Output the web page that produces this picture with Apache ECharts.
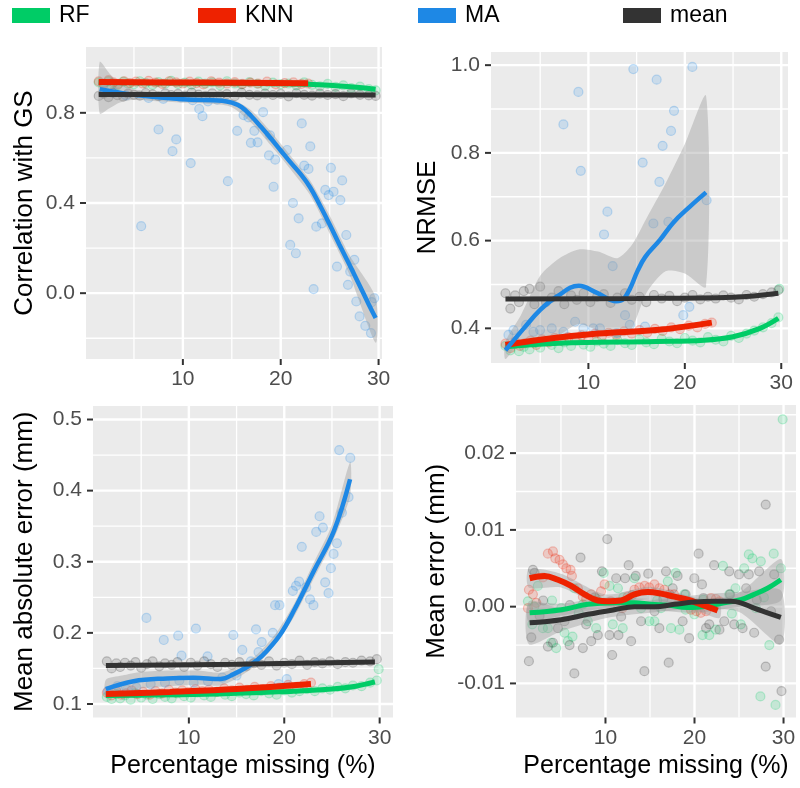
<!DOCTYPE html>
<html><head><meta charset="utf-8">
<script src="https://cdn.jsdelivr.net/npm/echarts@6/dist/echarts.min.js"></script>
<style>html,body{margin:0;padding:0;background:#fff}#c{width:800px;height:788px}</style>
</head><body><div id="c"></div>
<script>
// ---------------- data ----------------
const methods = ['RF', 'KNN', 'MA', 'mean'];
const xMajorTicks = [10, 20, 30];
const xMinorTicks = [5, 15, 25];

const pctAll = [1.4,1.9,2.4,2.8,3.3,3.9,4.4,5.0,5.6,6.2,6.9,7.5,8.2,8.8,9.5,10.2,10.9,11.6,12.3,13.0,13.8,14.5,15.3,16.0,16.8,17.6,18.4,19.2,20.0,20.8,21.6,22.4,23.2,24.0,24.8,25.6,26.4,27.2,28.1,29.0,29.7];
const pctKnn = [1.4,1.9,2.4,2.9,3.4,4.0,4.6,5.2,5.9,6.5,7.2,7.9,8.6,9.3,10.0,10.7,11.4,12.1,12.9,13.7,14.5,15.3,16.1,16.9,17.7,18.6,19.5,20.4,21.3,22.1,22.8];

const corrRF = [0.935,0.925,0.94,0.93,0.922,0.938,0.93,0.927,0.94,0.932,0.924,0.936,0.93,0.942,0.928,0.934,0.925,0.938,0.93,0.935,0.922,0.94,0.93,0.926,0.936,0.929,0.92,0.934,0.927,0.93,0.922,0.935,0.924,0.918,0.928,0.915,0.922,0.91,0.916,0.905,0.9];
const corrKNN = [0.94,0.93,0.945,0.935,0.928,0.94,0.932,0.938,0.93,0.942,0.934,0.928,0.94,0.935,0.93,0.938,0.932,0.926,0.94,0.934,0.93,0.936,0.928,0.934,0.93,0.938,0.926,0.932,0.935,0.928,0.93];
const corrMean = [0.875,0.885,0.87,0.89,0.878,0.872,0.885,0.88,0.876,0.888,0.882,0.874,0.886,0.879,0.884,0.876,0.89,0.881,0.875,0.886,0.878,0.883,0.874,0.889,0.88,0.877,0.885,0.879,0.884,0.873,0.887,0.88,0.876,0.885,0.879,0.883,0.874,0.886,0.88,0.877,0.875];
const corrMA = [[2.0,0.9],[3.0,0.89],[4.2,0.877],[5.74,0.297],[6.5,0.866],[7.51,0.726],[8.0,0.862],[8.94,0.63],[9.32,0.682],[9.8,0.868],[10.8,0.577],[11.0,0.856],[11.67,0.817],[12.0,0.785],[12.56,0.851],[13.5,0.858],[14.6,0.497],[15.55,0.72],[16.2,0.79],[16.7,0.78],[16.95,0.667],[17.3,0.72],[17.63,0.669],[18.2,0.803],[18.8,0.611],[18.9,0.7],[19.27,0.472],[19.44,0.592],[20.65,0.635],[20.97,0.214],[21.25,0.4],[21.55,0.177],[21.83,0.332],[22.15,0.753],[22.4,0.566],[22.84,0.551],[23.02,0.651],[23.36,0.018],[23.63,0.295],[24.21,0.31],[24.55,0.458],[24.9,0.435],[25.13,0.556],[25.4,0.45],[25.75,0.118],[26.09,0.413],[26.28,0.5],[26.7,0.258],[26.87,0.037],[27.1,0.096],[27.52,0.148],[27.72,-0.037],[28.06,-0.103],[28.64,-0.145],[29.22,-0.177],[29.3,-0.04],[29.56,-0.022]];
const corrLineRF = [[1.4,0.935],[10,0.932],[20,0.929],[25,0.922],[29.7,0.905]];
const corrLineKNN = [[1.4,0.937],[12,0.934],[22.8,0.931]];
const corrLineMA = [[1.5,0.905],[5,0.88],[10,0.86],[14,0.854],[15,0.845],[16,0.825],[17,0.785],[18,0.737],[19,0.686],[20,0.633],[21,0.58],[22,0.53],[23,0.47],[24,0.39],[25,0.305],[26,0.215],[27,0.128],[28,0.04],[29,-0.05],[29.7,-0.11]];
const corrLineMean = [[1.4,0.881],[15,0.881],[29.7,0.879]];
const corrBandX = [1.5,2.5,3.5,5,7,10,13,15,17,19,21,23,25,27,29.7];
const corrBandHi = [1.026,0.975,0.935,0.905,0.89,0.875,0.868,0.86,0.81,0.715,0.61,0.5,0.345,0.17,-0.02];
const corrBandLo = [0.797,0.82,0.845,0.858,0.852,0.845,0.84,0.825,0.755,0.655,0.55,0.435,0.265,0.085,-0.22];

const nrmseRF = [0.36,0.35,0.365,0.348,0.358,0.352,0.366,0.356,0.37,0.362,0.355,0.368,0.36,0.372,0.363,0.358,0.37,0.365,0.36,0.373,0.366,0.362,0.375,0.368,0.364,0.376,0.37,0.366,0.378,0.372,0.368,0.38,0.374,0.37,0.383,0.378,0.388,0.395,0.402,0.412,0.425];
const nrmseRFExtra = [[29.8,0.49]];
const nrmseKNN = [0.365,0.355,0.37,0.36,0.366,0.372,0.362,0.375,0.368,0.378,0.372,0.38,0.375,0.384,0.378,0.388,0.382,0.39,0.385,0.393,0.388,0.396,0.39,0.399,0.394,0.402,0.398,0.406,0.402,0.41,0.413];
const nrmseMean = [0.48,0.445,0.475,0.46,0.485,0.49,0.455,0.495,0.46,0.47,0.485,0.455,0.475,0.465,0.48,0.46,0.472,0.478,0.458,0.47,0.48,0.465,0.472,0.46,0.476,0.468,0.474,0.462,0.47,0.476,0.466,0.472,0.468,0.475,0.47,0.466,0.476,0.472,0.478,0.482,0.487];
const nrmseMA = [[1.71,0.385],[2.23,0.396],[3.54,0.408],[4.3,0.392],[4.99,0.396],[6.2,0.4],[7.41,0.392],[7.41,0.865],[8.62,0.415],[8.96,0.939],[9.21,0.759],[9.48,0.4],[10.5,0.4],[11.2,0.4],[11.62,0.614],[11.97,0.666],[12.52,0.542],[12.94,0.389],[13.8,0.43],[14.3,0.408],[14.66,0.991],[15.63,0.778],[15.87,0.404],[16.74,0.639],[17.08,0.967],[17.36,0.734],[17.7,0.816],[18.29,0.643],[18.57,0.85],[18.88,0.896],[19.84,0.43],[20.47,0.449],[20.78,0.996],[22.26,0.692]];
const nrmseLineRF = [[1.4,0.358],[7,0.366],[17,0.37],[22,0.373],[25,0.381],[27.8,0.4],[29.7,0.423]];
const nrmseLineKNN = [[1.4,0.362],[5,0.374],[11,0.388],[17,0.396],[22.8,0.413]];
const nrmseLineMA = [[1.4,0.35],[3.3,0.4],[5.0,0.442],[6.7,0.472],[9.0,0.497],[10.9,0.481],[12.9,0.462],[13.6,0.466],[14.3,0.49],[15.1,0.531],[15.9,0.563],[17.4,0.601],[18.8,0.641],[20.5,0.677],[22.2,0.71]];
const nrmseLineMean = [[1.4,0.467],[15,0.468],[25,0.471],[29.7,0.48]];
const nrmseBandX = [1.4,3,5,7,9,11,13,14.5,16,18,20,22.2];
const nrmseBandHi = [0.37,0.43,0.52,0.56,0.58,0.575,0.56,0.59,0.65,0.73,0.82,0.93];
const nrmseBandLo = [0.33,0.37,0.365,0.385,0.41,0.395,0.38,0.40,0.48,0.53,0.525,0.495];

const maeRF = [0.11,0.107,0.114,0.108,0.112,0.106,0.115,0.109,0.113,0.107,0.114,0.11,0.108,0.115,0.111,0.109,0.116,0.112,0.11,0.117,0.113,0.111,0.116,0.114,0.112,0.118,0.115,0.113,0.119,0.116,0.118,0.121,0.118,0.122,0.12,0.124,0.122,0.126,0.125,0.13,0.133];
const maeRFExtra = [[29.9,0.149]];
const maeKNN = [0.116,0.112,0.118,0.113,0.115,0.119,0.114,0.117,0.113,0.118,0.115,0.12,0.116,0.119,0.117,0.121,0.118,0.12,0.117,0.122,0.119,0.123,0.12,0.124,0.121,0.125,0.123,0.127,0.124,0.128,0.13];
const maeMean = [0.16,0.15,0.157,0.152,0.158,0.154,0.159,0.151,0.156,0.16,0.153,0.157,0.155,0.159,0.152,0.158,0.154,0.16,0.156,0.152,0.158,0.155,0.159,0.153,0.157,0.155,0.16,0.154,0.158,0.156,0.161,0.155,0.159,0.157,0.16,0.156,0.159,0.158,0.161,0.16,0.163];
const maeMA = [[1.5,0.118],[2.5,0.125],[3.5,0.12],[4.5,0.123],[5.55,0.221],[6.0,0.128],[7.37,0.19],[7.5,0.13],[8.88,0.196],[9.0,0.133],[9.23,0.168],[10.5,0.13],[10.74,0.206],[11.96,0.167],[12.0,0.132],[13.5,0.137],[14.66,0.197],[15.0,0.14],[15.6,0.176],[16.5,0.16],[17.04,0.205],[17.3,0.173],[17.64,0.187],[18.8,0.2],[19.04,0.239],[19.4,0.128],[19.5,0.239],[20.26,0.135],[20.9,0.259],[21.24,0.266],[21.56,0.272],[21.84,0.321],[22.3,0.264],[22.7,0.247],[23.06,0.239],[23.35,0.342],[23.7,0.364],[24.05,0.348],[24.29,0.271],[24.64,0.256],[24.89,0.291],[25.17,0.311],[25.52,0.326],[25.76,0.457],[26.04,0.369],[26.74,0.391],[26.92,0.446]];
const maeLineRF = [[1.3,0.112],[13,0.114],[21,0.118],[25,0.121],[27.5,0.125],[29.5,0.131]];
const maeLineKNN = [[1.3,0.114],[8,0.117],[15,0.121],[22.8,0.128]];
const maeLineMA = [[1.3,0.121],[4.2,0.132],[7.7,0.136],[10.5,0.137],[13.3,0.135],[14.7,0.142],[16.1,0.152],[17.1,0.161],[18.2,0.175],[19.6,0.198],[21,0.231],[23.1,0.287],[25.2,0.343],[26.9,0.416]];
const maeLineMean = [[1.3,0.154],[15,0.156],[29.5,0.159]];
const maeBandX = [1.3,3,5,8,11,13.3,15,17,19,21,23,25,26.9];
const maeBandHi = [0.134,0.14,0.145,0.147,0.147,0.144,0.152,0.168,0.197,0.24,0.296,0.352,0.44];
const maeBandLo = [0.108,0.116,0.122,0.125,0.127,0.126,0.136,0.154,0.183,0.222,0.274,0.326,0.392];

const meRF = [[1.29,0.0007],[1.78,-0.0023],[2.0,0.0],[2.4,0.0027],[2.97,-0.0028],[3.53,-0.0028],[3.9,-0.0047],[4.0,0.0008],[4.47,-0.0054],[5.03,-0.0002],[5.4,-0.0034],[5.78,-0.0045],[6.3,-0.0039],[6.5,0.0024],[7.0,-0.0008],[7.46,0.0003],[8.02,-0.0019],[8.95,-0.0028],[9.0,0.001],[9.8,0.0044],[10.45,0.0027],[10.82,-0.0023],[11.4,0.0024],[11.94,-0.0028],[12.0,0.0012],[12.5,0.0003],[13.25,0.0037],[14.0,-0.0002],[14.93,-0.0019],[15.5,-0.0019],[15.8,0.0008],[16.24,-0.0002],[17.0,0.0033],[17.36,-0.0028],[17.9,0.0044],[18.3,-0.003],[18.86,0.0016],[19.0,-0.0004],[19.98,-0.001],[20.9,-0.0037],[21.0,0.0009],[21.66,-0.0037],[22.4,-0.003],[23.2,0.0053],[23.9,0.0016],[24.2,-0.0009],[24.6,0.0024],[25.2,-0.0023],[25.58,0.005],[26.1,0.0068],[26.5,0.0063],[26.9,-0.0002],[27.45,0.0059],[27.4,-0.0117],[27.8,0.0012],[28.4,-0.005],[28.9,0.0069],[29.1,-0.0128],[29.7,0.005],[29.9,0.0244]];
const meKNN = [[1.29,-0.0002],[1.4,0.0022],[1.85,0.0016],[2.23,0.0005],[2.97,0.0038],[3.53,0.0069],[4.1,0.0072],[4.36,0.0063],[4.84,0.0061],[5.22,0.0055],[5.6,0.005],[6.08,0.0048],[6.23,0.004],[6.9,0.0024],[7.46,0.0013],[7.83,0.001],[8.4,0.0016],[8.95,0.0008],[9.5,0.002],[9.9,0.0029],[10.6,0.0007],[11.4,0.0003],[11.9,-0.0002],[12.5,0.0013],[13.25,0.0022],[13.8,0.0025],[14.4,0.0027],[14.9,0.0025],[15.5,0.0029],[16.05,0.0024],[16.6,0.0022],[17.2,0.0016],[17.7,0.0016],[18.3,0.0007],[19.0,0.0003],[19.6,-0.0004],[20.2,-0.0006],[20.7,-0.0008],[21.3,-0.0006],[21.85,0.0011],[22.4,0.001],[22.8,0.0007]];
const meMean = [[1.4,-0.0071],[1.67,-0.004],[1.85,0.0048],[2.04,0.0044],[2.6,-0.0012],[3.0,0.0008],[3.53,-0.0052],[4.1,-0.0047],[4.66,-0.0028],[5.4,-0.0019],[5.97,-0.005],[6.0,0.0002],[6.5,-0.0087],[7.2,0.0064],[7.46,-0.0054],[7.83,-0.0023],[8.4,-0.0045],[8.8,0.0012],[9.14,-0.0037],[9.6,0.0046],[10.2,0.0088],[10.45,-0.0037],[10.75,-0.0063],[11.2,0.0037],[11.46,-0.0037],[11.76,-0.0013],[12.2,0.0037],[12.6,0.0054],[12.88,-0.0045],[13.0,0.0015],[13.4,0.004],[14.0,-0.0019],[14.37,-0.0084],[14.8,0.0043],[15.5,-0.0006],[16.05,-0.0028],[16.5,0.001],[16.8,0.0046],[17.1,-0.0073],[17.55,0.0024],[18.1,0.004],[18.67,-0.0019],[19.0,0.0016],[19.4,-0.0041],[19.98,0.0037],[20.46,0.0069],[20.84,0.0029],[21.0,0.0011],[21.3,-0.0028],[21.66,-0.0023],[22.2,0.0054],[22.8,-0.003],[23.34,-0.0019],[23.9,0.0046],[24.0,0.0016],[24.46,-0.0023],[25.0,0.0042],[25.4,-0.0028],[25.8,0.0024],[26.1,0.0042],[26.7,-0.0034],[27.0,0.0009],[27.26,0.0046],[28.0,0.0133],[28.0,-0.0078],[28.6,-0.0006],[28.95,0.0042],[29.5,-0.0043],[29.77,-0.011]];
const meLineRF = [[1.48,-0.0008],[5.03,-0.0004],[8.02,0.0003],[11.0,0.0005],[13.25,0.0005],[15.1,0.0003],[17.0,0.0002],[19.23,-0.0001],[21.5,0.0001],[23.34,0.0005],[25.2,0.0009],[26.7,0.0016],[28.2,0.0024],[29.7,0.0035]];
const meLineKNN = [[1.48,0.0037],[3.16,0.004],[4.66,0.0035],[6.15,0.0027],[7.65,0.0016],[9.14,0.0008],[10.26,0.0007],[11.76,0.0008],[13.25,0.0016],[14.75,0.0019],[16.24,0.0017],[17.74,0.0013],[19.23,0.0009],[20.72,0.0003],[22.6,-0.0005]];
const meLineMean = [[1.48,-0.0021],[5.03,-0.0017],[8.02,-0.001],[11.0,-0.0004],[13.25,0.0],[15.5,0.0],[17.74,0.0003],[19.98,0.0006],[22.2,0.0007],[24.1,0.0007],[25.2,0.0005],[26.7,-0.0002],[28.2,-0.0008],[29.7,-0.0014]];
const meBandX = [1.4,5,10,15,20,25,29.7];
const meMeanBandLo = [-0.0049,-0.0032,-0.0015,-0.0008,-0.0003,-0.0007,-0.0049];
const meMeanBandHi = [0.0007,-0.0002,0.0003,0.0008,0.0015,0.0019,0.0021];
const meRFBandLo = [-0.002,-0.0012,-0.0002,-0.0004,-0.0008,0.0,0.0008];
const meRFBandHi = [0.0004,0.0004,0.0012,0.001,0.0006,0.0018,0.0062];
const meKnnBandX = [1.4,5,10,15,20,22.8];
const meKnnBandLo = [0.0025,0.0025,0.0,0.001,-0.0004,-0.0015];
const meKnnBandHi = [0.0049,0.0043,0.0016,0.0026,0.0012,0.0005];

// ---------------- styling / build ----------------
const COL = {RF:'#00CC66', KNN:'#EE2200', MA:'#1E88E5', mean:'#333333'};
const LW = {RF:5, KNN:6, MA:4.5, mean:5};
const FONT = "'Liberation Sans', Arial, Helvetica, sans-serif";
function rgba(hex, a){const n=parseInt(hex.slice(1),16);return 'rgba('+(n>>16)+','+((n>>8)&255)+','+(n&255)+','+a+')';}
function zip(xs, ys){return xs.map((x,i)=>[x, ys[i]]);}

const panels = [
  {grid:{left:86, top:47, width:296, height:312}, x:[0.1,30.35], y:[-0.292,1.092], yMajor:[0,0.4,0.8], yMinor:[-0.2,0.2,0.6,1.0], dec:1, yName:'Correlation with GS', yGap:48, xName:''},
  {grid:{left:491, top:52, width:297, height:311}, x:[-0.1,30.7], y:[0.321,1.03], yMajor:[0.4,0.6,0.8,1.0], yMinor:[0.5,0.7,0.9], dec:1, yName:'NRMSE', yGap:50, xName:''},
  {grid:{left:93, top:406, width:300, height:311.5}, x:[-0.05,31.4], y:[0.081,0.519], yMajor:[0.1,0.2,0.3,0.4,0.5], yMinor:[0.15,0.25,0.35,0.45], dec:1, yName:'Mean absolute error (mm)', yGap:55, xName:'Percentage missing (%)'},
  {grid:{left:516, top:405, width:280, height:312.5}, x:[-0.05,31.4], y:[-0.01444,0.02627], yMajor:[-0.01,0,0.01,0.02], yMinor:[-0.005,0.005,0.015,0.025], dec:2, yName:'Mean error (mm)', yGap:66, xName:'Percentage missing (%)'}
];

const grids=[], xAxes=[], yAxes=[];
panels.forEach((p,i)=>{
  grids.push(Object.assign({show:false}, p.grid));
  xAxes.push({type:'value', gridIndex:i, position:'bottom', min:p.x[0], max:p.x[1],
    axisLine:{show:false, onZero:false}, axisTick:{show:false},
    axisLabel:{customValues:xMajorTicks, margin:10, color:'#4D4D4D', fontSize:21, fontFamily:FONT},
    splitLine:{show:false},
    name:p.xName, nameLocation:'middle', nameGap:36,
    nameTextStyle:{fontSize:25, color:'#000', fontFamily:FONT}});
  yAxes.push({type:'value', gridIndex:i, position:'left', min:p.y[0], max:p.y[1],
    axisLine:{show:false, onZero:false}, axisTick:{show:false},
    axisLabel:{customValues:p.yMajor, margin:11, color:'#4D4D4D', fontSize:21, fontFamily:FONT,
      formatter:(v)=>Number(v).toFixed(p.dec)},
    splitLine:{show:false},
    name:p.yName, nameLocation:'middle', nameGap:p.yGap,
    nameTextStyle:{fontSize:26, color:'#000', fontFamily:FONT}});
});

// panel background + grid lines + tick marks as one polygon-based custom series (mapped with api.coord)
function panelFrame(gi){
  const p = panels[gi];
  const xm = (p.x[0] + p.x[1]) / 2, ym = (p.y[0] + p.y[1]) / 2;
  return {type:'custom', xAxisIndex:gi, yAxisIndex:gi, data:[[xm, ym]], clip:false, silent:true, z:1,
    renderItem:function(params, api){
      const tl = api.coord([p.x[0], p.y[1]]), br = api.coord([p.x[1], p.y[0]]);
      const x0 = tl[0], y0 = tl[1], x1 = br[0], y1 = br[1];
      const poly = (a, b, c, d, fill, z2) => ({type:'polygon', z2:z2,
        shape:{points:[[a, b], [c, b], [c, d], [a, d]]}, style:{fill:fill}});
      const kids = [poly(x0, y0, x1, y1, '#EBEBEB', 0)];
      xMinorTicks.forEach(v => { const px = api.coord([v, ym])[0]; kids.push(poly(px - 0.65, y0, px + 0.65, y1, '#FFFFFF', 1)); });
      p.yMinor.forEach(v => { const py = api.coord([xm, v])[1]; kids.push(poly(x0, py - 0.65, x1, py + 0.65, '#FFFFFF', 1)); });
      xMajorTicks.forEach(v => { const px = api.coord([v, ym])[0]; kids.push(poly(px - 1.2, y0, px + 1.2, y1, '#FFFFFF', 2)); });
      p.yMajor.forEach(v => { const py = api.coord([xm, v])[1]; kids.push(poly(x0, py - 1.2, x1, py + 1.2, '#FFFFFF', 2)); });
      xMajorTicks.forEach(v => { const px = api.coord([v, ym])[0]; kids.push(poly(px - 1, y1, px + 1, y1 + 6, '#333333', 3)); });
      p.yMajor.forEach(v => { const py = api.coord([xm, v])[1]; kids.push(poly(x0 - 6, py - 1, x0, py + 1, '#333333', 3)); });
      return {type:'group', children:kids};
    }};
}

function sc(name, data, gi){
  return {type:'scatter', name, data, xAxisIndex:gi, yAxisIndex:gi, symbol:'circle', symbolSize:9,
    itemStyle:{color:rgba(COL[name],0.2), borderColor:rgba(COL[name],0.3), borderWidth:1.2},
    z:2, silent:true};
}
function ln(name, data, gi){
  return {type:'line', name, data, xAxisIndex:gi, yAxisIndex:gi, smooth:0.4, showSymbol:false, symbol:'none',
    lineStyle:{color:COL[name], width:LW[name], cap:'butt'}, z:4, silent:true};
}
function band(xs, lo, hi, gi){
  return {type:'custom', xAxisIndex:gi, yAxisIndex:gi, data:[[xs[0], lo[0]]], clip:true, silent:true, z:3,
    renderItem:function(params, api){
      const pts=[];
      for(let i=0;i<xs.length;i++) pts.push(api.coord([xs[i], hi[i]]));
      for(let i=xs.length-1;i>=0;i--) pts.push(api.coord([xs[i], lo[i]]));
      return {type:'polygon', shape:{points:pts, smooth:0.25}, style:{fill:'rgba(153,153,153,0.4)'}};
    }};
}

const series = [
  sc('RF', zip(pctAll, corrRF), 0), sc('KNN', zip(pctKnn, corrKNN), 0), sc('MA', corrMA, 0), sc('mean', zip(pctAll, corrMean), 0),
  sc('RF', zip(pctAll, nrmseRF).concat(nrmseRFExtra), 1), sc('KNN', zip(pctKnn, nrmseKNN), 1), sc('MA', nrmseMA, 1), sc('mean', zip(pctAll, nrmseMean), 1),
  sc('RF', zip(pctAll, maeRF).concat(maeRFExtra), 2), sc('KNN', zip(pctKnn, maeKNN), 2), sc('MA', maeMA, 2), sc('mean', zip(pctAll, maeMean), 2),
  sc('RF', meRF, 3), sc('KNN', meKNN, 3), sc('mean', meMean, 3),
  panelFrame(0), panelFrame(1), panelFrame(2), panelFrame(3),
  band(corrBandX, corrBandLo, corrBandHi, 0),
  band(nrmseBandX, nrmseBandLo, nrmseBandHi, 1),
  band(maeBandX, maeBandLo, maeBandHi, 2),
  band(meBandX, meRFBandLo, meRFBandHi, 3),
  band(meKnnBandX, meKnnBandLo, meKnnBandHi, 3),
  band(meBandX, meMeanBandLo, meMeanBandHi, 3),
  ln('RF', corrLineRF, 0), ln('KNN', corrLineKNN, 0), ln('MA', corrLineMA, 0), ln('mean', corrLineMean, 0),
  ln('RF', nrmseLineRF, 1), ln('KNN', nrmseLineKNN, 1), ln('MA', nrmseLineMA, 1), ln('mean', nrmseLineMean, 1),
  ln('RF', maeLineRF, 2), ln('KNN', maeLineKNN, 2), ln('MA', maeLineMA, 2), ln('mean', maeLineMean, 2),
  ln('RF', meLineRF, 3), ln('KNN', meLineKNN, 3), ln('mean', meLineMean, 3)
];

const legendLefts = {RF:12, KNN:198, MA:418, mean:623};
const legends = methods.map(m=>({
  left:legendLefts[m], top:4, orient:'horizontal', padding:0, itemGap:0, itemWidth:38, itemHeight:15,
  selectedMode:false,
  textStyle:{fontSize:23, color:'#000', fontFamily:FONT, padding:[0,0,0,4]},
  data:[{name:m, icon:'rect', itemStyle:{color:COL[m], borderWidth:0, opacity:1}}]
}));

const chart = echarts.init(document.getElementById('c'), null, {renderer:'canvas'});
chart.setOption({
  animation:false,
  backgroundColor:'#FFFFFF',
  legend:legends,
  grid:grids, xAxis:xAxes, yAxis:yAxes, series
});
</script></body></html>
